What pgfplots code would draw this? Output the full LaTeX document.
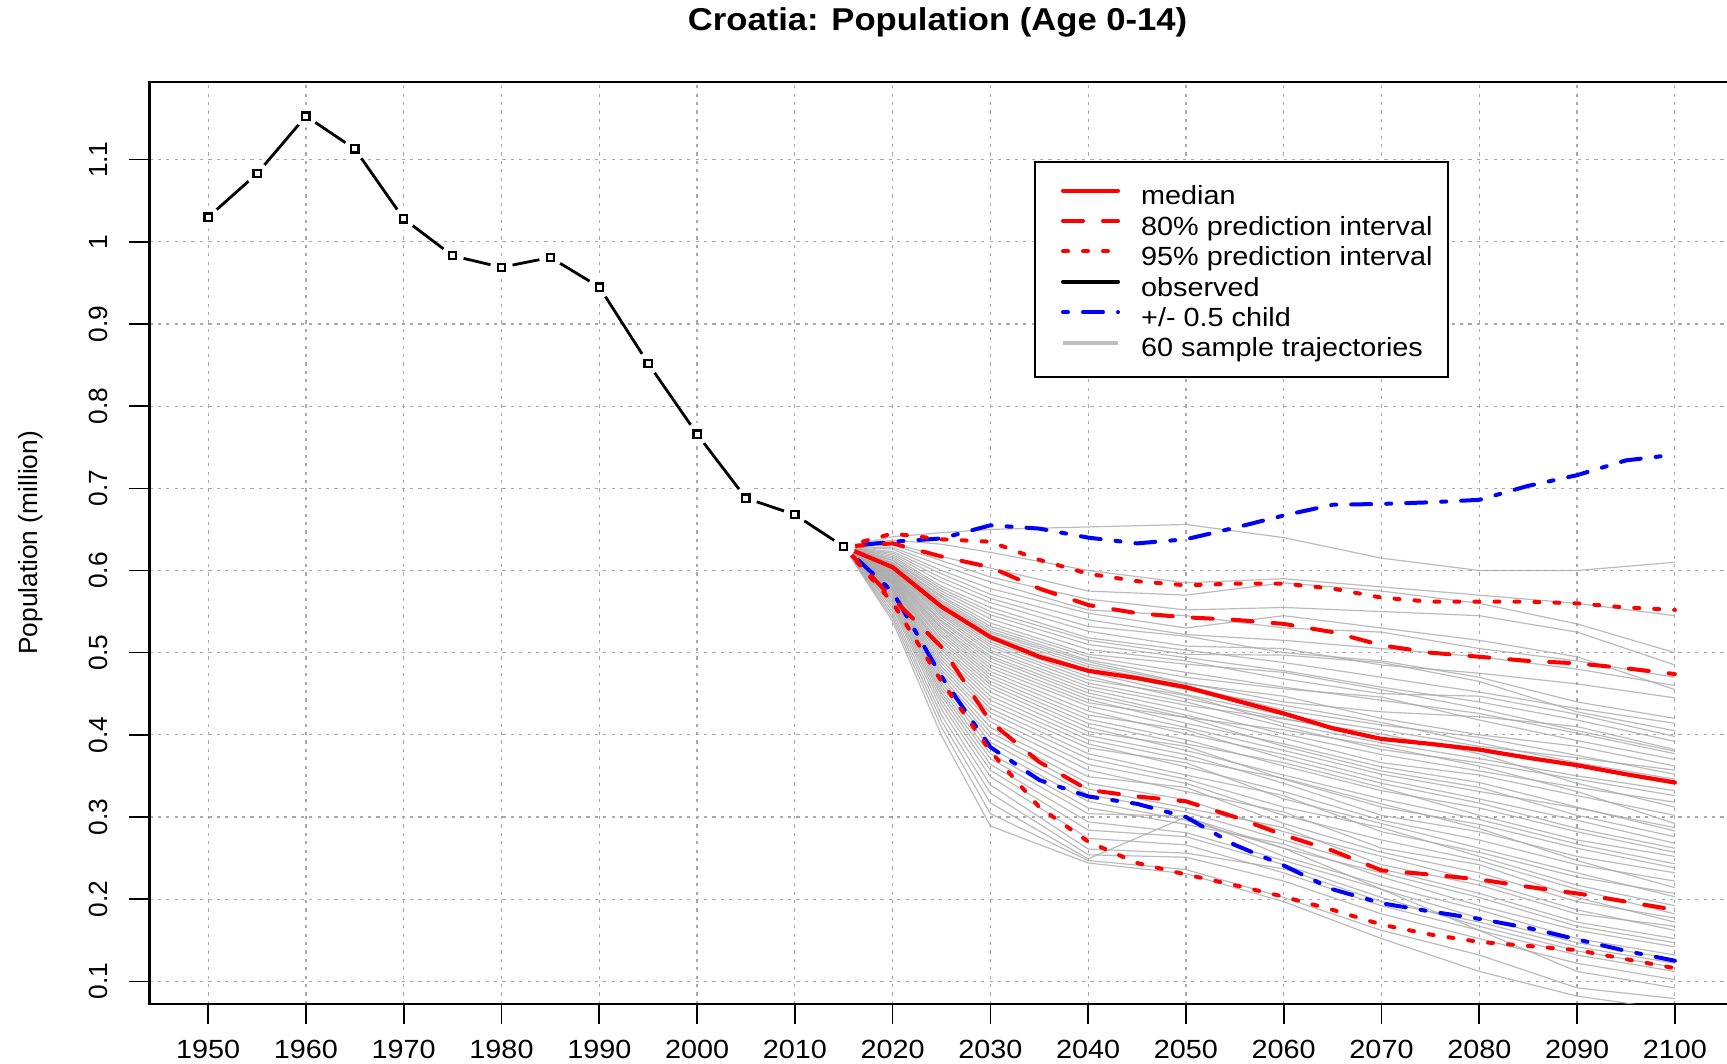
\documentclass[border=0pt]{standalone}
\usepackage{fontspec}
\setmainfont{Liberation Sans}[FakeStretch=1.095]
\newfontfamily\vertfont{Liberation Sans}
\usepackage{pgfplots}
\pgfplotsset{compat=1.18}
\definecolor{gridc}{RGB}{168,168,168}
\definecolor{trajc}{RGB}{170,170,170}
\definecolor{legtraj}{RGB}{190,190,190}
\newcommand{\lblfont}{\fontsize{13.15}{15}\selectfont}
\begin{document}
\begin{tikzpicture}
\begin{axis}[
  at={(0,0)}, anchor=south west,
  scale only axis, width=792pt, height=461.15pt,
  xmin=1944, xmax=2106, ymin=0.0724, ymax=1.1949,
  xtick={1950,1960,1970,1980,1990,2000,2010,2020,2030,2040,2050,2060,2070,2080,2090,2100},
  xticklabels={1950,1960,1970,1980,1990,2000,2010,2020,2030,2040,2050,2060,2070,2080,2090,2100},
  ytick={0.1,0.2,0.3,0.4,0.5,0.6,0.7,0.8,0.9,1,1.1},
  yticklabels={0.1,0.2,0.3,0.4,0.5,0.6,0.7,0.8,0.9,1,1.1},
  xtick pos=bottom, ytick pos=left,
  tick align=outside, major tick length=10pt,
  tick style={black, line width=0.8pt},
  axis line style={line width=1.1pt},
  grid=major,
  major grid style={gridc, dash pattern=on 1.6pt off 2.6pt, line width=0.6pt},
  xticklabel style={font=\lblfont, anchor=center, inner sep=0pt},
  yticklabel style={font=\vertfont\lblfont, rotate=90, anchor=center, inner sep=0pt},
  xticklabel shift=12.55pt,
  yticklabel shift=15.3pt,
  title={Croatia: Population (Age 0-14)},
  title style={at={(0.4975,1)}, anchor=center, yshift=23.85pt, font=\bfseries\fontsize{15.8}{18}\selectfont},
  ylabel={Population (million)},
  ylabel style={at={(axis description cs:-0.0751,0.5)}, anchor=center, font=\vertfont\lblfont},
  legend style={at={(0.5584,0.914)}, anchor=north west, draw=black, line width=1pt, fill=white,
    font=\lblfont, inner xsep=7.8pt, inner ysep=9.5pt, row sep=2.7pt,
    nodes={inner sep=0pt, text height=11.9pt, text depth=0.6pt},
    /tikz/every odd column/.append style={column sep=10.6pt}},
  legend cell align=left,
  legend image code/.code={\path (0pt,0pt); \draw[#1] (5.2pt,1.5pt) -- (32.7pt,1.5pt);},
  traj/.style={trajc, line width=0.6pt, opacity=0.8, forget plot},
]
% ---- legend entries ----
\addlegendimage{red, line width=2pt, line cap=round}
\addlegendentry{median}
\addlegendimage{red, line width=2pt, line cap=round, dash pattern=on 10pt off 10pt}
\addlegendentry{80\% prediction interval}
\addlegendimage{red, line width=2pt, line cap=round, dash pattern=on 2.5pt off 7.5pt}
\addlegendentry{95\% prediction interval}
\addlegendimage{black, line width=2pt, line cap=round}
\addlegendentry{observed}
\addlegendimage{blue, line width=2pt, line cap=round, dash pattern=on 2.5pt off 7.5pt on 10pt off 7.5pt}
\addlegendentry{+/- 0.5 child}
\addlegendimage{legtraj, line width=2pt}
\addlegendentry{60 sample trajectories}
% ---- 60 sample trajectories ----
\addplot[traj] coordinates {(2015,0.629)(2020,0.641)(2025,0.646)(2030,0.650)(2040,0.653)(2050,0.656)(2060,0.640)(2070,0.615)(2080,0.600)(2090,0.600)(2100,0.610)};
\addplot[traj] coordinates {(2015,0.629)(2020,0.637)(2025,0.632)(2030,0.622)(2040,0.600)(2050,0.585)(2060,0.590)(2070,0.580)(2080,0.570)(2090,0.560)(2100,0.545)};
\addplot[traj] coordinates {(2015,0.629)(2020,0.633)(2025,0.617)(2030,0.603)(2040,0.575)(2050,0.570)(2060,0.585)(2070,0.575)(2080,0.560)(2090,0.535)(2100,0.500)};
\addplot[traj] coordinates {(2015,0.629)(2020,0.631)(2025,0.612)(2030,0.592)(2040,0.565)(2050,0.552)(2060,0.555)(2070,0.550)(2080,0.545)(2090,0.525)(2100,0.485)};
\addplot[traj] coordinates {(2015,0.629)(2020,0.628)(2025,0.606)(2030,0.586)(2040,0.552)(2050,0.545)(2060,0.530)(2070,0.525)(2080,0.505)(2090,0.490)(2100,0.470)};
\addplot[traj] coordinates {(2015,0.629)(2020,0.626)(2025,0.600)(2030,0.578)(2040,0.548)(2050,0.530)(2060,0.545)(2070,0.530)(2080,0.515)(2090,0.495)(2100,0.455)};
\addplot[traj] coordinates {(2015,0.629)(2020,0.623)(2025,0.596)(2030,0.571)(2040,0.540)(2050,0.522)(2060,0.515)(2070,0.505)(2080,0.495)(2090,0.480)(2100,0.460)};
\addplot[traj] coordinates {(2015,0.629)(2020,0.621)(2025,0.591)(2030,0.566)(2040,0.532)(2050,0.520)(2060,0.500)(2070,0.490)(2080,0.470)(2090,0.440)(2100,0.420)};
\addplot[traj] coordinates {(2015,0.629)(2020,0.619)(2025,0.586)(2030,0.561)(2040,0.526)(2050,0.508)(2060,0.505)(2070,0.485)(2080,0.475)(2090,0.462)(2100,0.445)};
\addplot[traj] coordinates {(2015,0.629)(2020,0.617)(2025,0.581)(2030,0.555)(2040,0.518)(2050,0.503)(2060,0.488)(2070,0.470)(2080,0.452)(2090,0.432)(2100,0.414)};
\addplot[traj] coordinates {(2015,0.629)(2020,0.615)(2025,0.578)(2030,0.550)(2040,0.515)(2050,0.498)(2060,0.497)(2070,0.488)(2080,0.465)(2090,0.428)(2100,0.405)};
\addplot[traj] coordinates {(2015,0.629)(2020,0.613)(2025,0.575)(2030,0.546)(2040,0.510)(2050,0.494)(2060,0.478)(2070,0.458)(2080,0.440)(2090,0.418)(2100,0.392)};
\addplot[traj] coordinates {(2015,0.629)(2020,0.612)(2025,0.572)(2030,0.541)(2040,0.504)(2050,0.490)(2060,0.468)(2070,0.450)(2080,0.447)(2090,0.425)(2100,0.398)};
\addplot[traj] coordinates {(2015,0.629)(2020,0.610)(2025,0.569)(2030,0.536)(2040,0.498)(2050,0.486)(2060,0.476)(2070,0.455)(2080,0.432)(2090,0.405)(2100,0.380)};
\addplot[traj] coordinates {(2015,0.629)(2020,0.609)(2025,0.567)(2030,0.532)(2040,0.495)(2050,0.476)(2060,0.458)(2070,0.442)(2080,0.426)(2090,0.402)(2100,0.377)};
\addplot[traj] coordinates {(2015,0.629)(2020,0.608)(2025,0.564)(2030,0.529)(2040,0.491)(2050,0.470)(2060,0.456)(2070,0.446)(2080,0.418)(2090,0.393)(2100,0.370)};
\addplot[traj] coordinates {(2015,0.629)(2020,0.607)(2025,0.562)(2030,0.526)(2040,0.489)(2050,0.463)(2060,0.440)(2070,0.428)(2080,0.422)(2090,0.410)(2100,0.382)};
\addplot[traj] coordinates {(2015,0.629)(2020,0.606)(2025,0.560)(2030,0.524)(2040,0.486)(2050,0.462)(2060,0.447)(2070,0.420)(2080,0.400)(2090,0.386)(2100,0.362)};
\addplot[traj] coordinates {(2015,0.629)(2020,0.605)(2025,0.558)(2030,0.521)(2040,0.483)(2050,0.460)(2060,0.430)(2070,0.412)(2080,0.397)(2090,0.375)(2100,0.352)};
\addplot[traj] coordinates {(2015,0.629)(2020,0.604)(2025,0.556)(2030,0.519)(2040,0.479)(2050,0.455)(2060,0.436)(2070,0.415)(2080,0.390)(2090,0.366)(2100,0.346)};
\addplot[traj] coordinates {(2015,0.629)(2020,0.603)(2025,0.553)(2030,0.516)(2040,0.476)(2050,0.449)(2060,0.424)(2070,0.406)(2080,0.386)(2090,0.372)(2100,0.357)};
\addplot[traj] coordinates {(2015,0.629)(2020,0.602)(2025,0.551)(2030,0.513)(2040,0.471)(2050,0.444)(2060,0.420)(2070,0.396)(2080,0.382)(2090,0.362)(2100,0.340)};
\addplot[traj] coordinates {(2015,0.629)(2020,0.601)(2025,0.549)(2030,0.510)(2040,0.467)(2050,0.448)(2060,0.414)(2070,0.390)(2080,0.371)(2090,0.350)(2100,0.332)};
\addplot[traj] coordinates {(2015,0.629)(2020,0.600)(2025,0.547)(2030,0.507)(2040,0.463)(2050,0.440)(2060,0.410)(2070,0.382)(2080,0.366)(2090,0.346)(2100,0.326)};
\addplot[traj] coordinates {(2015,0.629)(2020,0.599)(2025,0.545)(2030,0.503)(2040,0.459)(2050,0.436)(2060,0.419)(2070,0.401)(2080,0.377)(2090,0.341)(2100,0.312)};
\addplot[traj] coordinates {(2015,0.629)(2020,0.598)(2025,0.542)(2030,0.500)(2040,0.455)(2050,0.430)(2060,0.401)(2070,0.376)(2080,0.356)(2090,0.336)(2100,0.318)};
\addplot[traj] coordinates {(2015,0.629)(2020,0.597)(2025,0.539)(2030,0.496)(2040,0.451)(2050,0.424)(2060,0.396)(2070,0.366)(2080,0.351)(2090,0.326)(2100,0.302)};
\addplot[traj] coordinates {(2015,0.629)(2020,0.596)(2025,0.537)(2030,0.493)(2040,0.447)(2050,0.421)(2060,0.406)(2070,0.386)(2080,0.362)(2090,0.331)(2100,0.292)};
\addplot[traj] coordinates {(2015,0.629)(2020,0.595)(2025,0.534)(2030,0.489)(2040,0.443)(2050,0.414)(2060,0.389)(2070,0.361)(2080,0.342)(2090,0.312)(2100,0.283)};
\addplot[traj] coordinates {(2015,0.629)(2020,0.594)(2025,0.531)(2030,0.485)(2040,0.439)(2050,0.421)(2060,0.386)(2070,0.356)(2080,0.336)(2090,0.302)(2100,0.276)};
\addplot[traj] coordinates {(2015,0.629)(2020,0.593)(2025,0.529)(2030,0.481)(2040,0.435)(2050,0.409)(2060,0.381)(2070,0.352)(2080,0.331)(2090,0.311)(2100,0.287)};
\addplot[traj] coordinates {(2015,0.629)(2020,0.592)(2025,0.526)(2030,0.477)(2040,0.429)(2050,0.401)(2060,0.376)(2070,0.346)(2080,0.322)(2090,0.296)(2100,0.268)};
\addplot[traj] coordinates {(2015,0.629)(2020,0.591)(2025,0.523)(2030,0.473)(2040,0.424)(2050,0.406)(2060,0.371)(2070,0.341)(2080,0.317)(2090,0.286)(2100,0.262)};
\addplot[traj] coordinates {(2015,0.629)(2020,0.590)(2025,0.520)(2030,0.469)(2040,0.419)(2050,0.394)(2060,0.362)(2070,0.332)(2080,0.311)(2090,0.282)(2100,0.257)};
\addplot[traj] coordinates {(2015,0.629)(2020,0.589)(2025,0.516)(2030,0.465)(2040,0.414)(2050,0.389)(2060,0.366)(2070,0.336)(2080,0.302)(2090,0.272)(2100,0.252)};
\addplot[traj] coordinates {(2015,0.629)(2020,0.588)(2025,0.513)(2030,0.461)(2040,0.409)(2050,0.381)(2060,0.351)(2070,0.322)(2080,0.297)(2090,0.267)(2100,0.243)};
\addplot[traj] coordinates {(2015,0.629)(2020,0.587)(2025,0.509)(2030,0.457)(2040,0.404)(2050,0.386)(2060,0.346)(2070,0.312)(2080,0.291)(2090,0.262)(2100,0.238)};
\addplot[traj] coordinates {(2015,0.629)(2020,0.586)(2025,0.506)(2030,0.452)(2040,0.399)(2050,0.376)(2060,0.341)(2070,0.302)(2080,0.282)(2090,0.252)(2100,0.232)};
\addplot[traj] coordinates {(2015,0.629)(2020,0.585)(2025,0.503)(2030,0.447)(2040,0.394)(2050,0.370)(2060,0.347)(2070,0.316)(2080,0.286)(2090,0.247)(2100,0.214)};
\addplot[traj] coordinates {(2015,0.629)(2020,0.584)(2025,0.499)(2030,0.442)(2040,0.389)(2050,0.361)(2060,0.331)(2070,0.296)(2080,0.272)(2090,0.242)(2100,0.222)};
\addplot[traj] coordinates {(2015,0.629)(2020,0.583)(2025,0.495)(2030,0.437)(2040,0.384)(2050,0.366)(2060,0.322)(2070,0.292)(2080,0.262)(2090,0.232)(2100,0.203)};
\addplot[traj] coordinates {(2015,0.629)(2020,0.582)(2025,0.491)(2030,0.432)(2040,0.377)(2050,0.351)(2060,0.326)(2070,0.282)(2080,0.257)(2090,0.227)(2100,0.207)};
\addplot[traj] coordinates {(2015,0.629)(2020,0.580)(2025,0.487)(2030,0.427)(2040,0.371)(2050,0.346)(2060,0.312)(2070,0.287)(2080,0.252)(2090,0.217)(2100,0.192)};
\addplot[traj] coordinates {(2015,0.629)(2020,0.579)(2025,0.483)(2030,0.421)(2040,0.364)(2050,0.341)(2060,0.302)(2070,0.272)(2080,0.247)(2090,0.212)(2100,0.182)};
\addplot[traj] coordinates {(2015,0.629)(2020,0.578)(2025,0.479)(2030,0.416)(2040,0.357)(2050,0.331)(2060,0.306)(2070,0.262)(2080,0.242)(2090,0.202)(2100,0.172)};
\addplot[traj] coordinates {(2015,0.629)(2020,0.576)(2025,0.475)(2030,0.409)(2040,0.349)(2050,0.336)(2060,0.292)(2070,0.257)(2080,0.232)(2090,0.197)(2100,0.177)};
\addplot[traj] coordinates {(2015,0.629)(2020,0.575)(2025,0.471)(2030,0.403)(2040,0.341)(2050,0.321)(2060,0.282)(2070,0.252)(2080,0.222)(2090,0.187)(2100,0.162)};
\addplot[traj] coordinates {(2015,0.629)(2020,0.573)(2025,0.467)(2030,0.397)(2040,0.334)(2050,0.311)(2060,0.287)(2070,0.242)(2080,0.217)(2090,0.182)(2100,0.167)};
\addplot[traj] coordinates {(2015,0.629)(2020,0.571)(2025,0.463)(2030,0.391)(2040,0.327)(2050,0.306)(2060,0.272)(2070,0.237)(2080,0.207)(2090,0.172)(2100,0.152)};
\addplot[traj] coordinates {(2015,0.629)(2020,0.569)(2025,0.459)(2030,0.384)(2040,0.319)(2050,0.296)(2060,0.262)(2070,0.232)(2080,0.202)(2090,0.167)(2100,0.147)};
\addplot[traj] coordinates {(2015,0.629)(2020,0.567)(2025,0.455)(2030,0.377)(2040,0.311)(2050,0.291)(2060,0.267)(2070,0.227)(2080,0.192)(2090,0.162)(2100,0.142)};
\addplot[traj] coordinates {(2015,0.629)(2020,0.565)(2025,0.451)(2030,0.371)(2040,0.304)(2050,0.301)(2060,0.252)(2070,0.217)(2080,0.187)(2090,0.152)(2100,0.132)};
\addplot[traj] coordinates {(2015,0.629)(2020,0.562)(2025,0.447)(2030,0.364)(2040,0.294)(2050,0.281)(2060,0.247)(2070,0.212)(2080,0.177)(2090,0.147)(2100,0.127)};
\addplot[traj] coordinates {(2015,0.629)(2020,0.560)(2025,0.442)(2030,0.357)(2040,0.284)(2050,0.276)(2060,0.242)(2070,0.202)(2080,0.167)(2090,0.137)(2100,0.117)};
\addplot[traj] coordinates {(2015,0.629)(2020,0.557)(2025,0.437)(2030,0.349)(2040,0.274)(2050,0.266)(2060,0.232)(2070,0.192)(2080,0.162)(2090,0.132)(2100,0.112)};
\addplot[traj] coordinates {(2015,0.629)(2020,0.554)(2025,0.431)(2030,0.339)(2040,0.261)(2050,0.256)(2060,0.237)(2070,0.197)(2080,0.172)(2090,0.142)(2100,0.122)};
\addplot[traj] coordinates {(2015,0.629)(2020,0.550)(2025,0.424)(2030,0.329)(2040,0.254)(2050,0.251)(2060,0.222)(2070,0.182)(2080,0.152)(2090,0.122)(2100,0.102)};
\addplot[traj] coordinates {(2015,0.629)(2020,0.546)(2025,0.417)(2030,0.317)(2040,0.249)(2050,0.300)(2060,0.262)(2070,0.212)(2080,0.162)(2090,0.112)(2100,0.092)};
\addplot[traj] coordinates {(2015,0.629)(2020,0.542)(2025,0.409)(2030,0.304)(2040,0.247)(2050,0.236)(2060,0.202)(2070,0.162)(2080,0.132)(2090,0.092)(2100,0.079)};
\addplot[traj] coordinates {(2015,0.629)(2020,0.538)(2025,0.399)(2030,0.289)(2040,0.244)(2050,0.231)(2060,0.197)(2070,0.152)(2080,0.112)(2090,0.082)(2100,0.065)};
% ---- observed ----
\addplot[black, line width=1.4pt, forget plot] coordinates {(1950,1.030)(1955,1.083)(1960,1.153)(1965,1.113)(1970,1.028)(1975,0.983)(1980,0.969)(1985,0.981)(1990,0.945)(1995,0.852)(2000,0.766)(2005,0.688)(2010,0.668)(2015,0.629)};
\addplot[white, only marks, mark=*, mark size=5.5pt, mark options={white, fill=white}, forget plot] coordinates {(1950,1.030)(1955,1.083)(1960,1.153)(1965,1.113)(1970,1.028)(1975,0.983)(1980,0.969)(1985,0.981)(1990,0.945)(1995,0.852)(2000,0.766)(2005,0.688)(2010,0.668)(2015,0.629)};
\addplot[only marks, mark=square, mark size=1.8pt, mark options={black, line width=1.1pt, solid}, forget plot] coordinates {(1950,1.030)(1955,1.083)(1960,1.153)(1965,1.113)(1970,1.028)(1975,0.983)(1980,0.969)(1985,0.981)(1990,0.945)(1995,0.852)(2000,0.766)(2005,0.688)(2010,0.668)(2015,0.629)};
% ---- +/- 0.5 child ----
\addplot[blue, line width=2pt, line cap=round, dash pattern=on 2.5pt off 7.5pt on 10pt off 7.5pt, forget plot] coordinates {(2015,0.629)(2020,0.635)(2025,0.639)(2030,0.655)(2035,0.651)(2040,0.640)(2045,0.633)(2050,0.638)(2055,0.652)(2060,0.667)(2065,0.680)(2070,0.681)(2075,0.683)(2080,0.686)(2085,0.703)(2090,0.716)(2095,0.734)(2100,0.741)};
\addplot[blue, line width=2pt, line cap=round, dash pattern=on 2.5pt off 7.5pt on 10pt off 7.5pt, forget plot] coordinates {(2015,0.629)(2020,0.574)(2025,0.471)(2030,0.385)(2035,0.345)(2040,0.325)(2045,0.316)(2050,0.300)(2055,0.266)(2060,0.241)(2065,0.212)(2070,0.195)(2075,0.185)(2080,0.176)(2085,0.165)(2090,0.151)(2095,0.137)(2100,0.125)};
% ---- 95% ----
\addplot[red, line width=2pt, line cap=round, dash pattern=on 2.5pt off 7.5pt, forget plot] coordinates {(2015,0.629)(2020,0.645)(2025,0.638)(2030,0.635)(2035,0.613)(2040,0.596)(2045,0.587)(2050,0.582)(2055,0.584)(2060,0.584)(2065,0.578)(2070,0.567)(2075,0.562)(2080,0.562)(2085,0.562)(2090,0.560)(2095,0.555)(2100,0.552)};
\addplot[red, line width=2pt, line cap=round, dash pattern=on 2.5pt off 7.5pt, forget plot] coordinates {(2015,0.629)(2020,0.561)(2025,0.465)(2030,0.380)(2035,0.312)(2040,0.270)(2045,0.244)(2050,0.230)(2055,0.217)(2060,0.203)(2065,0.187)(2070,0.169)(2075,0.157)(2080,0.148)(2085,0.143)(2090,0.138)(2095,0.127)(2100,0.116)};
% ---- 80% ----
\addplot[red, line width=2pt, line cap=round, dash pattern=on 10pt off 10pt, forget plot] coordinates {(2015,0.629)(2020,0.633)(2025,0.617)(2030,0.604)(2035,0.578)(2040,0.558)(2045,0.548)(2050,0.543)(2055,0.540)(2060,0.535)(2065,0.525)(2070,0.509)(2075,0.500)(2080,0.495)(2085,0.490)(2090,0.487)(2095,0.481)(2100,0.474)};
\addplot[red, line width=2pt, line cap=round, dash pattern=on 10pt off 10pt, forget plot] coordinates {(2015,0.629)(2020,0.566)(2025,0.507)(2030,0.416)(2035,0.367)(2040,0.333)(2045,0.325)(2050,0.319)(2055,0.300)(2060,0.278)(2065,0.259)(2070,0.235)(2075,0.230)(2080,0.224)(2085,0.215)(2090,0.207)(2095,0.197)(2100,0.187)};
% ---- median ----
\addplot[red, line width=2.1pt, line cap=round, forget plot] coordinates {(2015,0.629)(2020,0.604)(2025,0.556)(2030,0.519)(2035,0.495)(2040,0.478)(2045,0.469)(2050,0.458)(2055,0.442)(2060,0.426)(2065,0.408)(2070,0.395)(2075,0.389)(2080,0.382)(2085,0.372)(2090,0.363)(2095,0.352)(2100,0.342)};
\end{axis}
\pgfresetboundingbox
\useasboundingbox (-74.75pt,-30pt) rectangle (788.75pt,502pt);
\end{tikzpicture}
\end{document}
